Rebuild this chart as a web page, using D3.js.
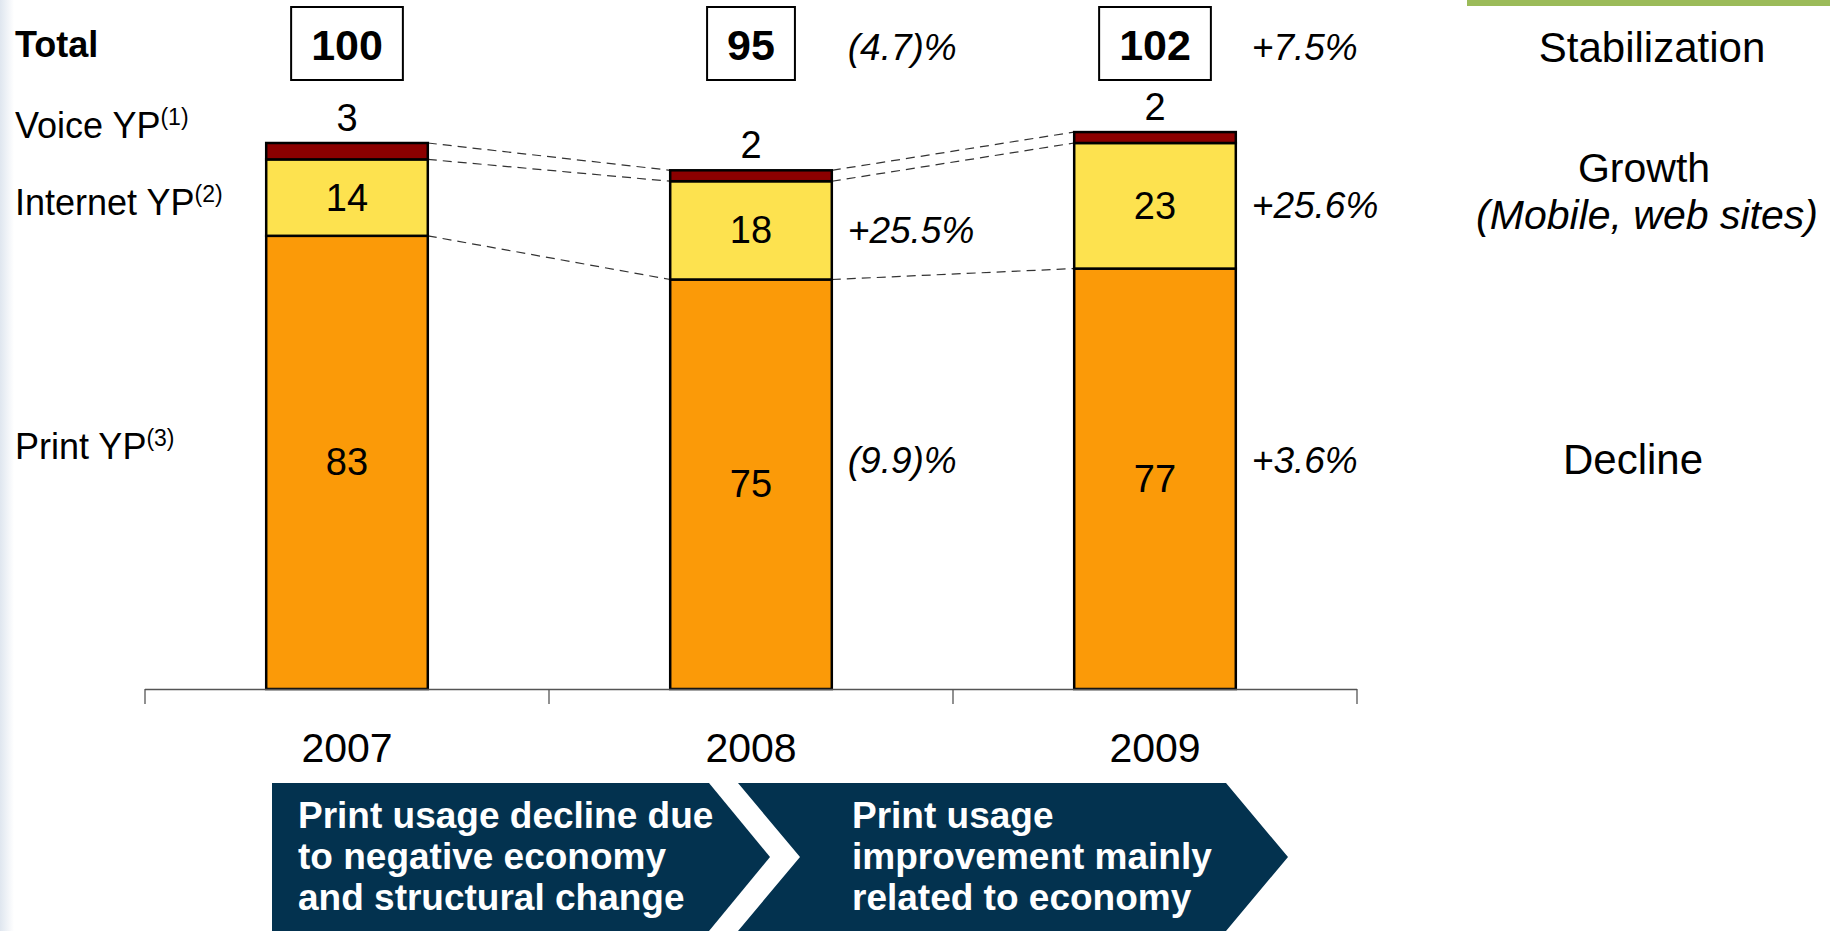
<!DOCTYPE html>
<html>
<head>
<meta charset="utf-8">
<script src="https://cdn.jsdelivr.net/npm/d3@7"></script>
<style>
  html, body { margin: 0; padding: 0; background: #fff; }
  svg { display: block; font-family: "Liberation Sans", Arial, sans-serif; }
</style>
</head>
<body>
<svg id="svg"></svg>
<script>
// values
const years = ["2007", "2008", "2009"];
const voice = [3, 2, 2];
const internet = [14, 18, 23];
const print = [83, 75, 77];
const totals = [100, 95, 102];
const totalChange = ["", "(4.7)%", "+7.5%"];
const internetChange = ["", "+25.5%", "+25.6%"];
const printChange = ["", "(9.9)%", "+3.6%"];
const rowLabels = [["Voice YP", "(1)"], ["Internet YP", "(2)"], ["Print YP", "(3)"]];
const trendLabels = ["Stabilization", "Growth", "(Mobile, web sites)", "Decline"];
const chevronText = [
    ["Print usage decline due", "to negative economy", "and structural change"],
    ["Print usage", "improvement mainly", "related to economy"]
];

let width = 1845;
let height = 931;

let svg = d3.select("#svg").attr("width", width).attr("height", height);

const colors = { print: "#fb9a08", internet: "#fde24f", voice: "#8b0000" };
const navy = "#03324f";

// left edge tint
let defs = svg.append("defs");
let grad = defs.append("linearGradient").attr("id", "edge");
grad.append("stop").attr("offset", "0%").attr("stop-color", "#dfe6ef");
grad.append("stop").attr("offset", "100%").attr("stop-color", "#ffffff");
svg.append("rect").attr("x", 0).attr("y", 0).attr("width", 14).attr("height", height).attr("fill", "url(#edge)");

// green accent at top right
svg.append("rect").attr("x", 1467).attr("y", 0).attr("width", 363).attr("height", 6).attr("fill", "#9bbb59");

let x = d3.scaleBand().domain(years).range([145, 1357]).padding(0);
let y = d3.scaleLinear().domain([0, 100]).range([689, 143]);
const barW = x.bandwidth() * 0.4;
const cx = d => x(d) + x.bandwidth() / 2;

let rows = years.map((yr, i) => ({ year: yr, print: print[i], internet: internet[i], voice: voice[i] }));
let stack = d3.stack().keys(["print", "internet", "voice"]);
let series = stack(rows);

// dashed connectors between bars
let cum = years.map((yr, i) => [print[i], print[i] + internet[i], totals[i]]);
for (let i = 0; i < years.length - 1; i++) {
    cum[i].forEach((v, k) => {
        svg.append("line")
            .attr("x1", cx(years[i]) + barW / 2)
            .attr("y1", y(v))
            .attr("x2", cx(years[i + 1]) - barW / 2)
            .attr("y2", y(cum[i + 1][k]))
            .attr("stroke", "#333")
            .attr("stroke-width", 1.2)
            .attr("stroke-dasharray", "9,6");
    });
}

// stacked bars
svg.selectAll("g.layer")
    .data(series)
    .join("g")
    .attr("class", "layer")
    .attr("fill", d => colors[d.key])
    .selectAll("rect")
    .data(d => d)
    .join("rect")
    .attr("x", d => cx(d.data.year) - barW / 2)
    .attr("y", d => y(d[1]))
    .attr("width", barW)
    .attr("height", d => y(d[0]) - y(d[1]))
    .attr("stroke", "#000")
    .attr("stroke-width", 2.5);

// segment labels (print, internet inside; voice above)
series.forEach(s => {
    s.forEach(d => {
        let t = svg.append("text")
            .attr("x", cx(d.data.year))
            .attr("text-anchor", "middle")
            .attr("font-size", 38)
            .attr("fill", "#000")
            .text(d.data[s.key]);
        if (s.key === "voice") {
            t.attr("y", y(d[1]) - 12);
        } else {
            t.attr("y", (y(d[0]) + y(d[1])) / 2).attr("dominant-baseline", "central");
        }
    });
});

// x axis: baseline with ticks at band boundaries, year labels below
let axisY = y(0);
let bounds = years.map(d => x(d)).concat([x(years[years.length - 1]) + x.bandwidth()]);
svg.append("line")
    .attr("x1", bounds[0]).attr("x2", bounds[bounds.length - 1])
    .attr("y1", axisY + 0.5).attr("y2", axisY + 0.5)
    .attr("stroke", "#555").attr("stroke-width", 1.3);
svg.selectAll("line.tick")
    .data(bounds)
    .join("line")
    .attr("class", "tick")
    .attr("x1", d => d).attr("x2", d => d)
    .attr("y1", axisY).attr("y2", axisY + 15)
    .attr("stroke", "#555").attr("stroke-width", 1.3);

let xAxis = svg.append("g")
    .attr("transform", `translate(0,${axisY})`)
    .call(d3.axisBottom(x).tickSize(0).tickPadding(44));
xAxis.select(".domain").remove();
xAxis.selectAll("text")
    .attr("font-size", 41)
    .attr("font-family", "'Liberation Sans', Arial, sans-serif")
    .attr("fill", "#000");

// total row
svg.append("text").attr("x", 15).attr("y", 57)
    .attr("font-size", 36).attr("font-weight", "bold").text("Total");

years.forEach((yr, i) => {
    let t = svg.append("text")
        .attr("x", cx(yr)).attr("y", 45)
        .attr("text-anchor", "middle").attr("dominant-baseline", "central")
        .attr("font-size", 43).attr("font-weight", "bold")
        .text(totals[i]);
    let bb = t.node().getBBox();
    svg.insert("rect", "text")
        .attr("x", bb.x - 20).attr("y", 7)
        .attr("width", bb.width + 40).attr("height", 73)
        .attr("fill", "#fff").attr("stroke", "#000").attr("stroke-width", 2);
});

// growth annotations to the right of bars
years.forEach((yr, i) => {
    if (!totalChange[i]) return;
    let tx = cx(yr) + barW / 2 + 16;
    let iy = (y(print[i]) + y(print[i] + internet[i])) / 2;
    [[totalChange[i], 47], [internetChange[i], iy], [printChange[i], 460]].forEach(([s, ty]) => {
        svg.append("text")
            .attr("x", tx).attr("y", ty)
            .attr("dominant-baseline", "central")
            .attr("font-size", 37).attr("font-style", "italic")
            .text(s);
    });
});

// row labels on the left
const rowY = [138, 215, 459];
rowLabels.forEach((r, i) => {
    let t = svg.append("text").attr("x", 15).attr("y", rowY[i]).attr("font-size", 36);
    t.append("tspan").text(r[0]);
    t.append("tspan").attr("font-size", 23).attr("dy", -13).text(r[1]);
});

// trend labels on the right
const trendPos = [[1652, 47, "normal"], [1644, 168, "normal"], [1647, 215, "italic"], [1633, 459, "normal"]];
trendLabels.forEach((s, i) => {
    svg.append("text")
        .attr("x", trendPos[i][0]).attr("y", trendPos[i][1])
        .attr("text-anchor", "middle").attr("dominant-baseline", "central")
        .attr("font-size", i === 1 || i === 2 ? 41 : 42).attr("font-style", trendPos[i][2])
        .text(s);
});

// chevrons at the bottom
const chTop = 783, chBot = 931, chMid = (chTop + chBot) / 2;
const chevrons = [
    [[272, chTop], [709, chTop], [770, chMid], [709, chBot], [272, chBot]],
    [[738, chTop], [1226, chTop], [1288, chMid], [1226, chBot], [738, chBot], [800, chMid]]
];
const chTextX = [298, 852];
chevrons.forEach((pts, i) => {
    svg.append("path")
        .attr("d", d3.line()(pts) + "Z")
        .attr("fill", navy);
    chevronText[i].forEach((line, k) => {
        svg.append("text")
            .attr("x", chTextX[i]).attr("y", 828 + k * 41)
            .attr("font-size", 37).attr("font-weight", "bold")
            .attr("fill", "#fff")
            .text(line);
    });
});
</script>
</body>
</html>
